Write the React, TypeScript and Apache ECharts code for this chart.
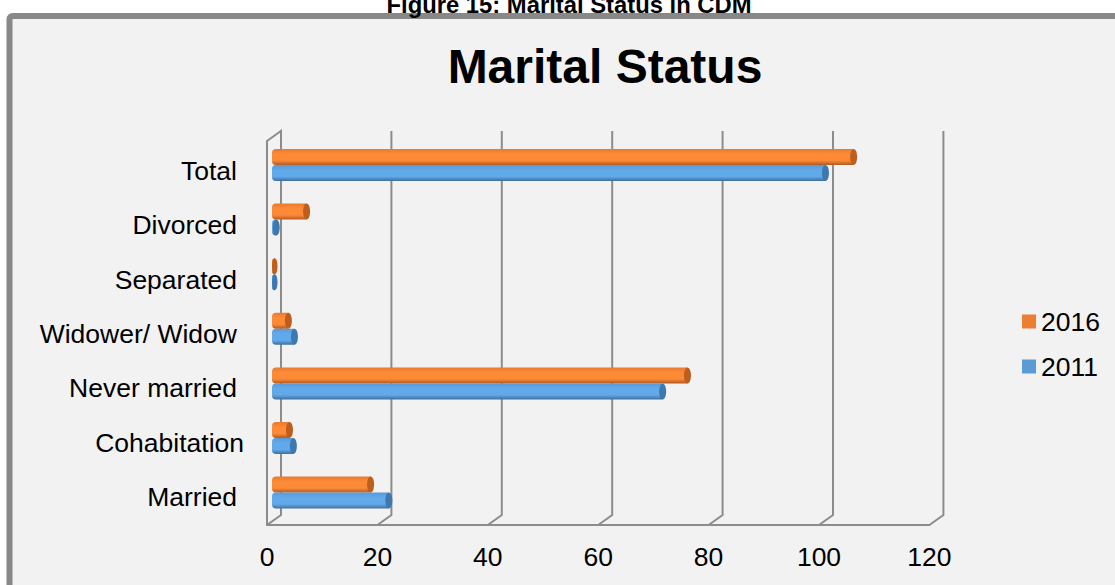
import React, { useEffect, useRef } from "react";
import * as echarts from "echarts";

const categories = ["Married", "Cohabitation", "Never married", "Widower/ Widow", "Separated", "Divorced", "Total"];
const values2016 = [18.5, 3.8, 75.9, 3.6, 1, 6.9, 106];
const values2011 = [21.8, 4.5, 71.4, 4.7, 1, 1.4, 100.9];
const xTicks = [0, 20, 40, 60, 80, 100, 120];
const FONT = "'Liberation Sans', Arial, sans-serif";
const DEPTH_X = 14;
const DEPTH_Y = 10;

function cylinder(api: any, stops: string[], endColor: string, side: number) {
  const v = api.value(0);
  const c = api.value(1);
  const p0 = api.coord([0, c]);
  const p1 = api.coord([v, c]);
  const h = 16;
  const y = side < 0 ? p0[1] - h : p0[1];
  const w = p1[0] - p0[0];
  const capW = Math.min(3.5, w / 2);
  return {
    type: "group",
    children: [
      {
        type: "rect",
        shape: { x: p0[0], y, width: Math.max(w - capW, 0), height: h, r: [4, 0, 0, 4] },
        style: {
          fill: new echarts.graphic.LinearGradient(0, 0, 0, 1, [
            { offset: 0, color: stops[0] },
            { offset: 0.3, color: stops[1] },
            { offset: 0.72, color: stops[1] },
            { offset: 1, color: stops[2] },
          ]),
        },
      },
      {
        type: "ellipse",
        shape: { cx: p1[0] - capW, cy: y + h / 2, rx: capW, ry: h / 2 },
        style: { fill: endColor },
      },
    ],
  };
}

export default function App() {
  const ref = useRef<HTMLDivElement>(null);
  useEffect(() => {
    const chart = echarts.init(ref.current!, undefined, { renderer: "svg" });
    chart.setOption({
      animation: false,
      backgroundColor: "#ffffff",
      textStyle: { fontFamily: FONT },
      title: [
        {
          text: "Figure 15: Marital Status in CDM",
          left: 569,
          top: -13,
          textAlign: "center",
          textStyle: { fontSize: 23.8, fontWeight: "bold", color: "#000", fontFamily: FONT },
          padding: [5, 9, 5, 0],
        },
        {
          text: "Marital Status",
          left: 600,
          top: 37,
          textAlign: "center",
          textStyle: { fontSize: 48, fontWeight: "bold", color: "#000", fontFamily: FONT },
        },
      ],
      graphic: [
        {
          type: "rect",
          z: -10,
          silent: true,
          shape: { x: 9.5, y: 16, width: 1200, height: 700, r: 3 },
          style: { fill: "#f2f2f2", stroke: "#888888", lineWidth: 6 },
        },
      ],
      legend: {
        data: ["2016", "2011"],
        orient: "vertical",
        left: 1017,
        top: 303,
        icon: "rect",
        itemWidth: 14,
        itemHeight: 14,
        itemGap: 18,
        selectedMode: false,
        textStyle: { fontSize: 26.5, color: "#000", fontFamily: FONT },
      },
      grid: [
        { left: 267, width: 662.4, top: 141, height: 384 },
        { left: 272, width: 662.4, top: 137.7, height: 382.2 },
        { left: 267, width: 662.4, top: 144, height: 380.3 },
      ],
      xAxis: [
        {
          gridIndex: 0,
          type: "value",
          min: 0,
          max: 120,
          interval: 20,
          axisLine: { show: true, onZero: false, lineStyle: { color: "#8c8c8c", width: 2 } },
          axisTick: { show: false },
          splitLine: { show: false },
          axisLabel: { fontSize: 26.5, color: "#000", margin: 18, fontFamily: FONT },
        },
        { gridIndex: 1, type: "value", min: 0, max: 120, show: false, splitLine: { show: false } },
        { gridIndex: 2, type: "value", min: 0, max: 120, show: false, splitLine: { show: false } },
      ],
      yAxis: [
        {
          gridIndex: 0,
          type: "value",
          min: 0,
          max: 1,
          interval: 1,
          axisLine: { show: true, lineStyle: { color: "#8c8c8c", width: 2 } },
          axisTick: { show: false },
          axisLabel: { show: false },
          splitLine: { show: false },
        },
        { gridIndex: 1, type: "category", data: categories, show: false },
        {
          gridIndex: 2,
          type: "category",
          data: categories,
          axisLine: { show: false },
          axisTick: { show: false },
          axisLabel: {
            margin: 23,
            color: "#000",
            fontSize: 26.5,
            fontFamily: FONT,
            formatter: (s: string) => (s === "Cohabitation" ? `{c|${s}}` : `{n|${s}}`),
            rich: {
              c: { fontSize: 26.5, color: "#000", fontFamily: FONT },
              n: { fontSize: 26.5, color: "#000", fontFamily: FONT, padding: [0, 7, 0, 0] },
            },
          },
        },
      ],
      series: [
        {
          type: "custom",
          name: "walls",
          xAxisIndex: 0,
          yAxisIndex: 0,
          silent: true,
          z: 1,
          data: xTicks.map((t) => [t]),
          renderItem: (_: any, api: any) => {
            const f = api.coord([api.value(0), 0]);
            const t = api.coord([api.value(0), 1]);
            return {
              type: "polyline",
              shape: {
                points: [
                  [f[0], f[1]],
                  [f[0] + DEPTH_X, f[1] - DEPTH_Y],
                  [f[0] + DEPTH_X, t[1] - DEPTH_Y],
                  ...(api.value(0) === 0 ? [[t[0], t[1]]] : []),
                ],
              },
              style: { fill: "none", stroke: "#8c8c8c", lineWidth: 2 },
            };
          },
        },
        {
          type: "custom",
          name: "2016",
          xAxisIndex: 1,
          yAxisIndex: 1,
          z: 3,
          itemStyle: { color: "#ed7d31" },
          data: values2016.map((v, i) => [v, i]),
          renderItem: (_: any, api: any) => cylinder(api, ["#e9792f", "#fd8a36", "#b05a22"], "#bd5d1e", -1),
        },
        {
          type: "custom",
          name: "2011",
          xAxisIndex: 1,
          yAxisIndex: 1,
          z: 3,
          itemStyle: { color: "#5b9bd5" },
          data: values2011.map((v, i) => [v, i]),
          renderItem: (_: any, api: any) => cylinder(api, ["#5a9ad4", "#62a9ea", "#3f6f9c"], "#3d78ae", 1),
        },
      ],
    });
    return () => chart.dispose();
  }, []);
  return <div ref={ref} style={{ position: "fixed", left: 0, top: 0, width: 1115, height: 585 }} />;
}
